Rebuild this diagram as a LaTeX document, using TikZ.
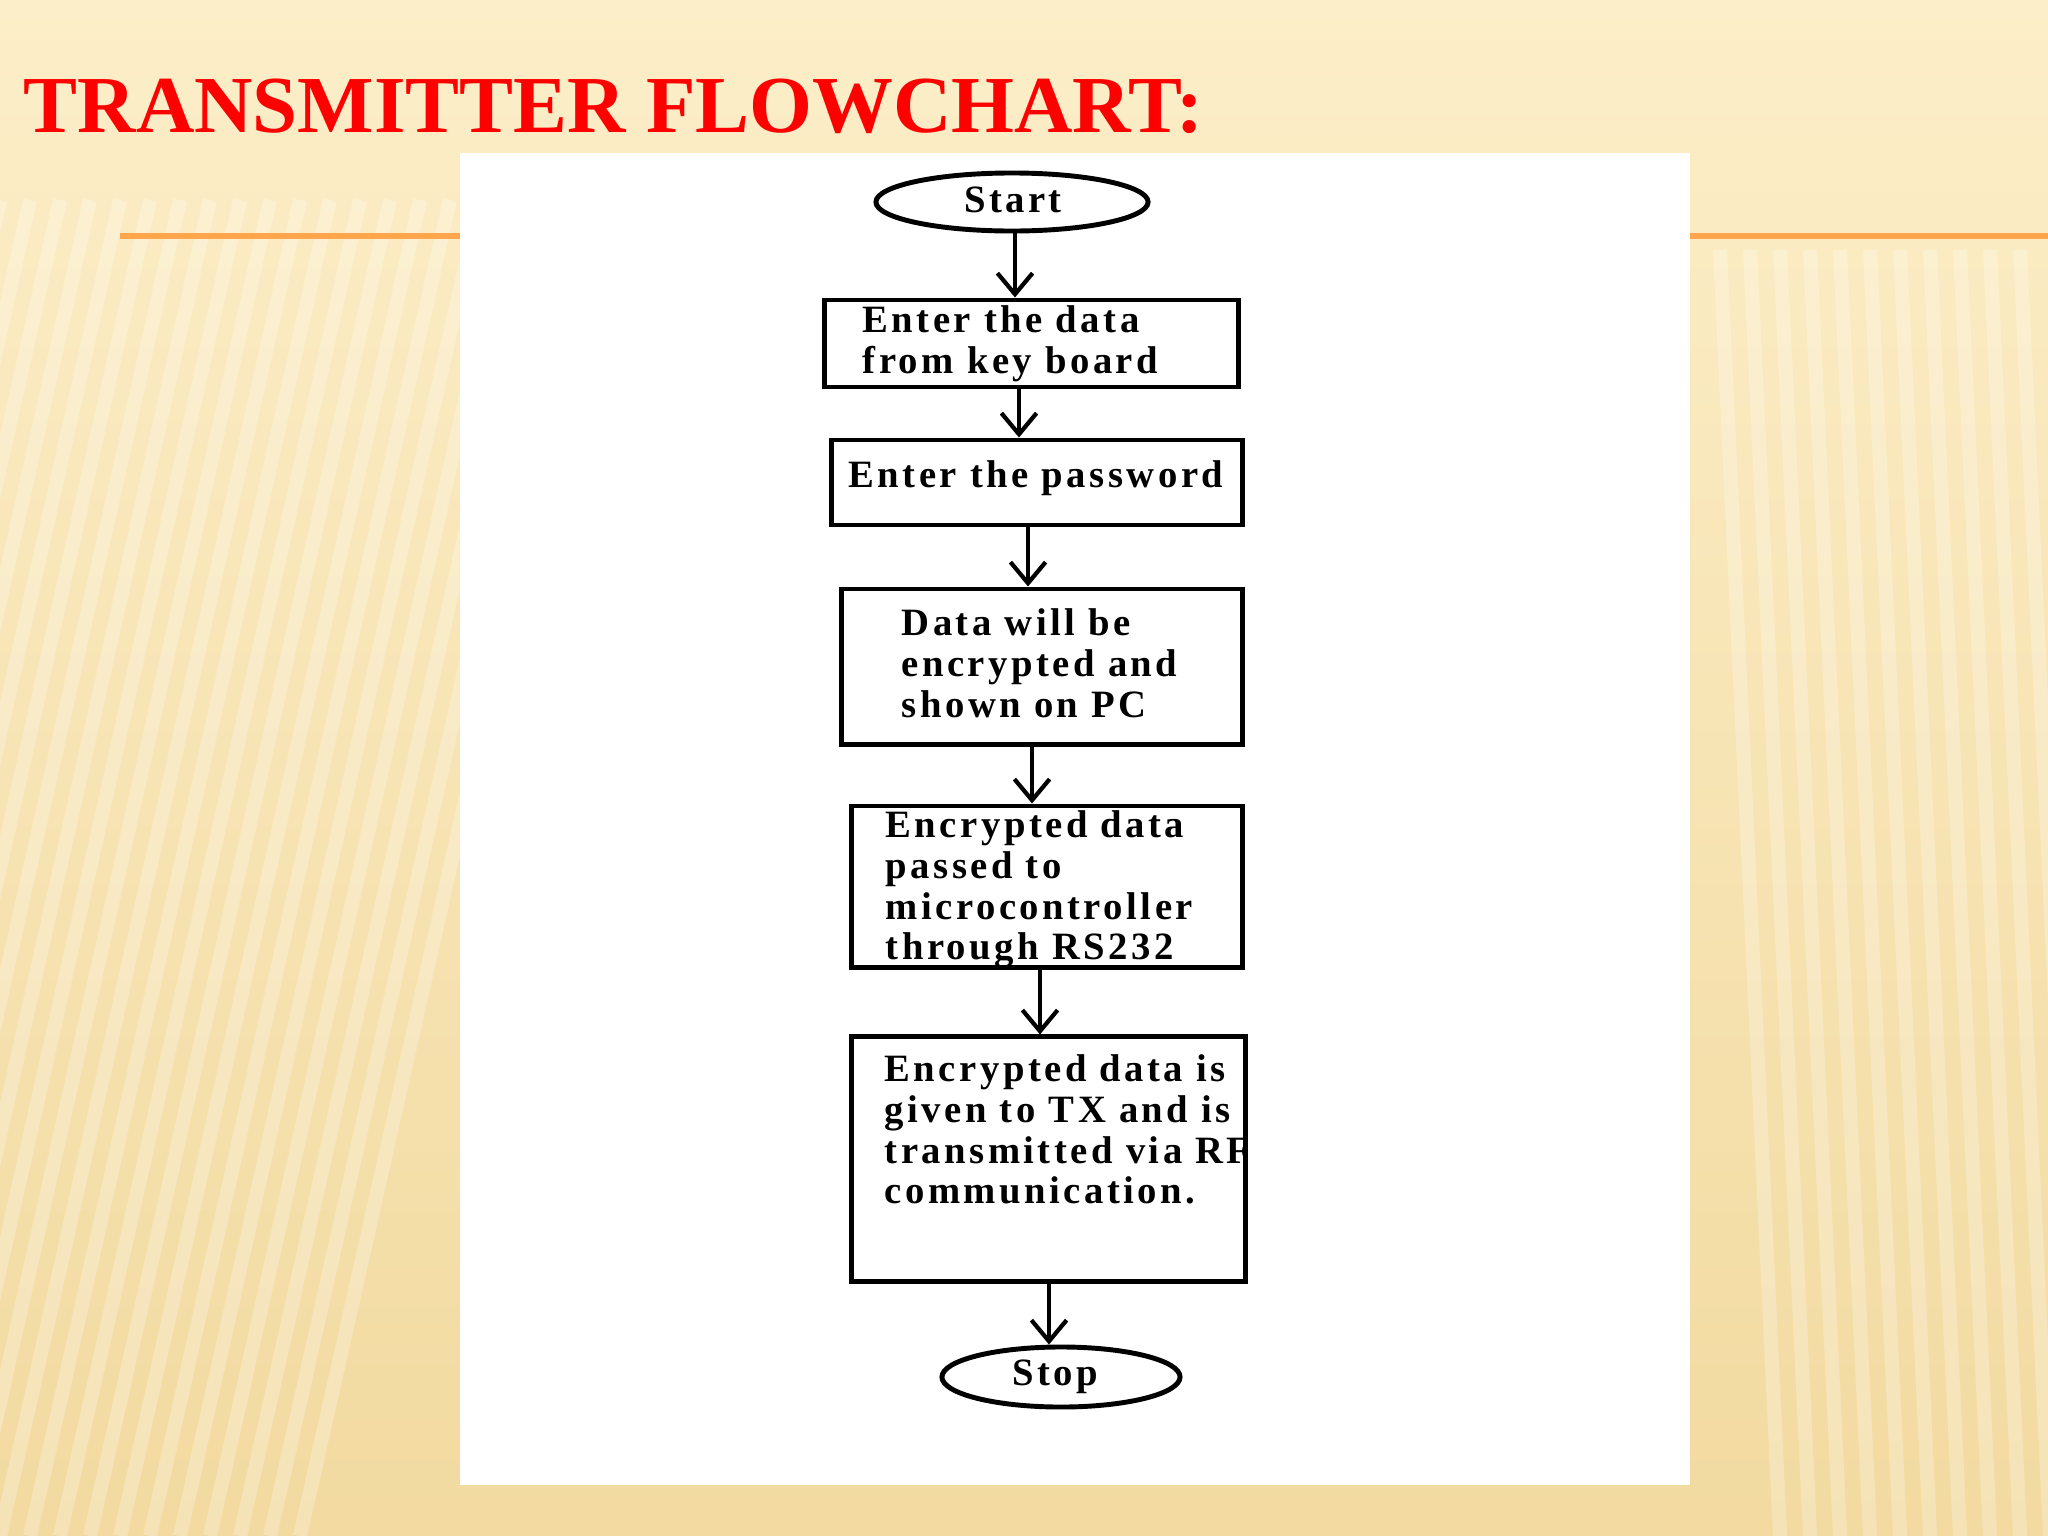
\documentclass[tikz,border=0pt]{standalone}
\usepackage{fontspec}
\setmainfont{Liberation Serif}
\newfontfamily\boxfont[LetterSpace=9]{Liberation Serif}
\usetikzlibrary{shapes.geometric,arrows.meta}
\begin{document}
\begin{tikzpicture}[x=0.01cm,y=-0.01cm,
  flowbox/.style={draw,line width=1.4pt,inner sep=0},
  oval/.style={draw,ellipse,line width=1.4pt,inner sep=0},
  txt/.style={font=\boxfont\bfseries\fontsize{11}{11.6}\selectfont,align=left,inner sep=0,anchor=north west},
  arr/.style={-{Straight Barb[length=6pt,width=10pt]},line width=1.2pt}]
\useasboundingbox (0,0) rectangle (2048,1536);
\shade[top color={rgb,255:red,252;green,238;blue,200},bottom color={rgb,255:red,242;green,218;blue,160}] (0,0) rectangle (2048,1536);
\foreach \i in {0,30,...,600}{\draw[white,opacity=0.25,line width=4pt] (\i,200) -- (\i-300,1536);}
\foreach \i in {1720,1750,...,2048}{\draw[white,opacity=0.25,line width=4pt] (\i,250) -- (\i+60,1536);}
\draw[orange!70,line width=1.5pt] (120,236) -- (2048,236);
\node[anchor=west,text=red,font=\bfseries\fontsize{23}{28}\selectfont,inner sep=0] (title) at (23,106) {TRANSMITTER FLOWCHART:};
\fill[white] (460,153) rectangle (1690,1485);
\node[oval,minimum width=2.72cm,minimum height=0.58cm] (start) at (1012,202) {};
\node[txt,anchor=center] (startt) at (1013,200) {Start};
\node[flowbox,minimum width=4.13cm,minimum height=0.87cm] (b1) at (1031.5,343.5) {};
\node[txt] (t1) at (862,305) {Enter the data\\from key board};
\node[flowbox,minimum width=4.10cm,minimum height=0.85cm] (b2) at (1037,482.5) {};
\node[txt,anchor=west] (t2) at (848,478) {Enter the password};
\node[flowbox,minimum width=4.00cm,minimum height=1.55cm] (b3) at (1042,666.5) {};
\node[txt] (t3) at (901,608) {Data will be\\encrypted and\\shown on PC};
\node[flowbox,minimum width=3.90cm,minimum height=1.61cm] (b4) at (1047,886.5) {};
\node[txt] (t4) at (885,810) {Encrypted data\\passed to\\microcontroller\\through RS232};
\node[flowbox,minimum width=3.93cm,minimum height=2.44cm] (b5) at (1048.5,1159) {};
\node[txt] (t5) at (884,1054) {Encrypted data is\\given to TX and is\\transmitted via RF\\communication.};
\node[oval,minimum width=2.38cm,minimum height=0.60cm] (stop) at (1061,1377) {};
\node[txt,anchor=center] (stopt) at (1055,1377) {Stop};
\draw[arr] (start.south -| 1015,0) -- (b1.north -| 1015,0);
\draw[arr] (b1.south -| 1019,0) -- (b2.north -| 1019,0);
\draw[arr] (b2.south -| 1028,0) -- (b3.north -| 1028,0);
\draw[arr] (b3.south -| 1032,0) -- (b4.north -| 1032,0);
\draw[arr] (b4.south -| 1040,0) -- (b5.north -| 1040,0);
\draw[arr] (b5.south -| 1049,0) -- (stop.north -| 1049,0);
\end{tikzpicture}
\end{document}
